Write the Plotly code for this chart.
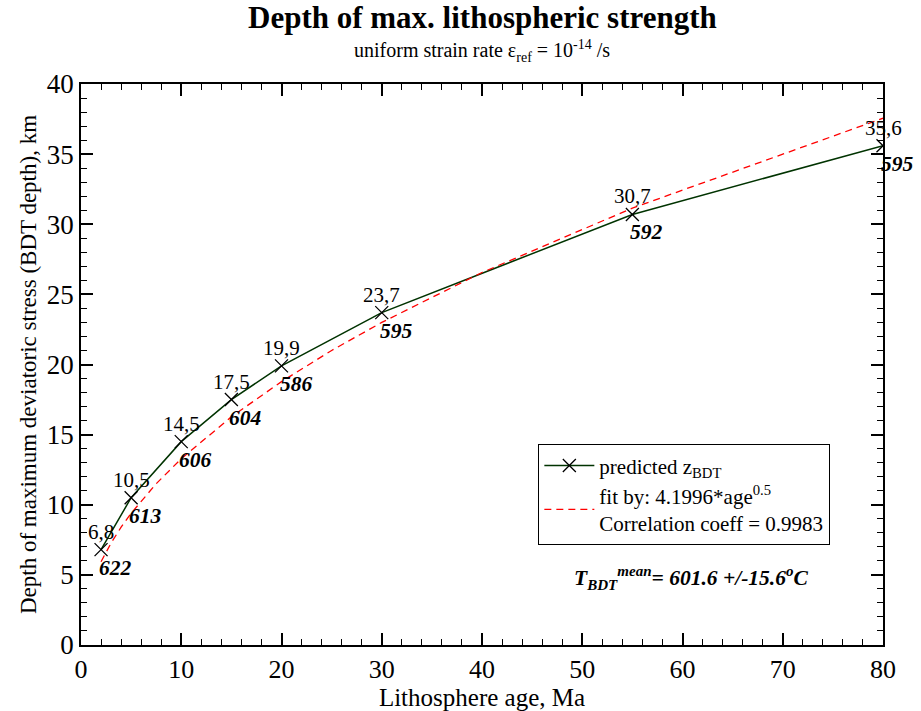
import plotly.graph_objects as go

age = [2, 5, 10, 15, 20, 30, 55, 80]
depth = [6.8, 10.5, 14.5, 17.5, 19.9, 23.7, 30.7, 35.6]
depth_labels = ["6,8", "10,5", "14,5", "17,5", "19,9", "23,7", "30,7", "35,6"]
temps = ["622", "613", "606", "604", "586", "595", "592", "595"]

fit_age = [2, 3, 4, 5, 7.5, 10, 15, 20, 25, 30, 40, 55, 80]
fit_depth = [5.94, 7.27, 8.40, 9.39, 11.50, 13.28, 16.27, 18.78, 21.00, 23.00, 26.56, 31.15, 37.56]

FONT = "Liberation Serif"

fig = go.Figure()
fig.add_trace(go.Scatter(
    x=age, y=depth, mode="lines+markers",
    line=dict(color="#003300", width=1.5),
    marker=dict(symbol="x-thin", size=13, line=dict(color="black", width=1.3), color="black"),
    name="predicted z<sub>BDT</sub>",
))
fig.add_trace(go.Scatter(
    x=fit_age, y=fit_depth, mode="lines",
    line=dict(color="red", width=1.3, dash="7px,5px"),
    name="fit by: 4.1996*age<sup>0.5</sup><br>Correlation coeff = 0.9983",
))

for a, d, dl, t in zip(age, depth, depth_labels, temps):
    fig.add_annotation(x=a, y=d, text=dl, showarrow=False, xanchor="center", yanchor="bottom",
                       yshift=4, font=dict(family=FONT, size=21, color="black"))
    fig.add_annotation(x=a, y=d, text="<b><i>" + t + "</i></b>", showarrow=False, xanchor="left",
                       yanchor="top", xshift=-4, yshift=-4, font=dict(family=FONT, size=21.5, color="black"))

fig.add_annotation(xref="paper", yref="paper", x=0.5, y=1, yshift=67, text="<b>Depth of max. lithospheric strength</b>",
                   showarrow=False, xanchor="center", yanchor="middle", font=dict(family=FONT, size=31, color="black"))
fig.add_annotation(xref="paper", yref="paper", x=0.5, y=1, yshift=33,
                   text="uniform strain rate ε<sub>ref</sub> = 10<sup>-14</sup> /s",
                   showarrow=False, xanchor="center", yanchor="middle", font=dict(family=FONT, size=20, color="black"))
fig.add_annotation(xref="paper", yref="paper", x=0.76, y=0.12,
                   text="<b><i>T<sub>BDT</sub><sup>mean</sup>= 601.6 +/-15.6<sup>o</sup>C</i></b>",
                   showarrow=False, xanchor="center", yanchor="middle", font=dict(family=FONT, size=21.5, color="black"))

axis_common = dict(
    showgrid=False, zeroline=False, showline=True, linecolor="black", linewidth=1.5,
    mirror="ticks", ticks="inside", ticklen=12, tickwidth=1.5, tickcolor="black",
    automargin=False,
)
fig.update_xaxes(range=[0, 80], dtick=10, tick0=0,
                 tickfont=dict(family=FONT, size=26, color="black"),
                 minor=dict(dtick=2, ticks="inside", ticklen=6, tickcolor="black", tickwidth=1.2),
                 title=dict(text="Lithosphere age, Ma", font=dict(family=FONT, size=25, color="black"), standoff=3),
                 **axis_common)
fig.update_yaxes(range=[0, 40], dtick=5, tick0=0,
                 tickfont=dict(family=FONT, size=27, color="black"),
                 minor=dict(dtick=1, ticks="inside", ticklen=6, tickcolor="black", tickwidth=1.2),
                 title=dict(text="Depth of maximum deviatoric stress (BDT depth), km",
                            font=dict(family=FONT, size=23, color="black"), standoff=4),
                 **axis_common)

fig.update_layout(
    width=921, height=711,
    margin=dict(l=81, r=38, t=84, b=66),
    paper_bgcolor="white", plot_bgcolor="white",
    showlegend=True,
    legend=dict(x=0.57, y=0.358, xanchor="left", yanchor="top", bgcolor="white",
                bordercolor="black", borderwidth=1.2,
                font=dict(family=FONT, size=21, color="black"), itemwidth=50, tracegroupgap=0),
    font=dict(family=FONT, color="black"),
)

fig.write_html("out.html")
